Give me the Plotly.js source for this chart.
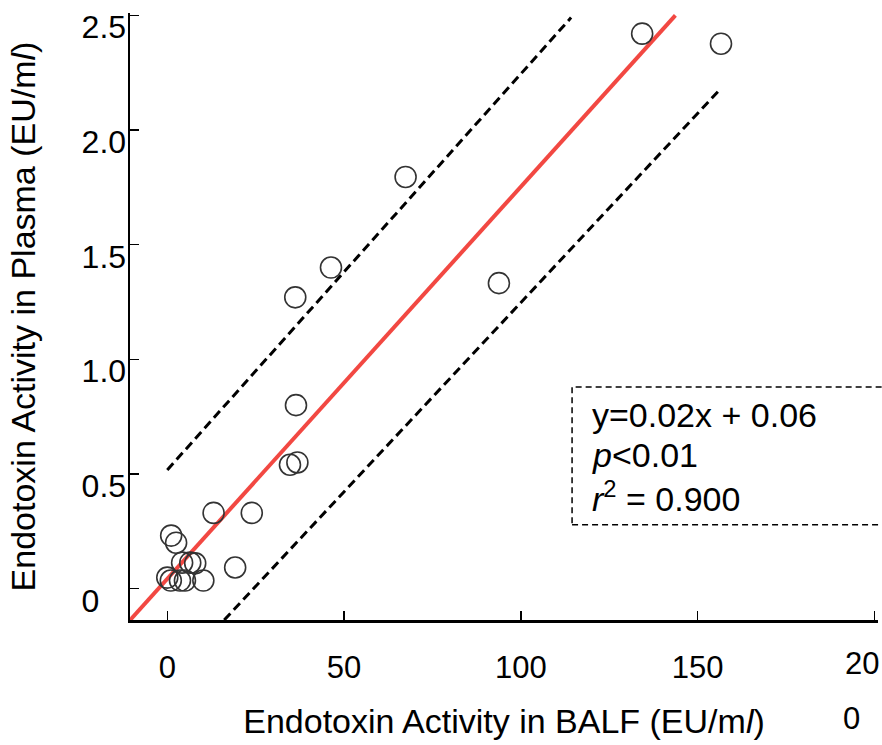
<!DOCTYPE html>
<html>
<head>
<meta charset="utf-8">
<script src="https://cdn.plot.ly/plotly-3.0.1.min.js"></script>
<style>html,body{margin:0;padding:0;background:#fff;}#chart{width:882px;height:745px;}</style>
</head>
<body>
<div id="chart"></div>
<script>
// Observed points
const balf = [134.3, 156.6, 67.4, 46.3, 36.2, 93.8, 36.4, 36.8, 34.7, 13.1, 23.9, 19.2, 1.1, 2.5, 4.2, 6.5, 7.9, 0.0, 1.0, 3.6, 5.0, 10.2];
const plasma = [2.42, 2.376, 1.795, 1.40, 1.27, 1.332, 0.80, 0.55, 0.54, 0.33, 0.33, 0.092, 0.231, 0.20, 0.113, 0.113, 0.11, 0.048, 0.035, 0.035, 0.035, 0.035];

// Regression line and band lines (endpoints)
const fitX = [-10.5, 143.7];
const fitY = [-0.137, 2.50];
const upperX = [0, 114.2];
const upperY = [0.517, 2.49];
const lowerX = [16.1, 156.1];
const lowerY = [-0.137, 2.173];

// Ticks (the 200 label is split in the original: "20" on the tick row, "0" beside the title)
const xTickVals = [0, 50, 100, 150, 200];
const xTickText = ['0', '50', '100', '150', ''];
const xTick200Parts = ['20', '0'];
const yTickVals = [0, 0.5, 1.0, 1.5, 2.0, 2.5];
const yTickText = ['0\u2008\u2007', '0.5', '1.0', '1.5', '2.0', '2.5'];

const statLines = ['y=0.02x + 0.06', '<i>p</i>&lt;0.01', '<i>r</i><sup>2</sup> = 0.900'];

const FONT = 'Liberation Sans, Arial, sans-serif';

const traces = [
  {x: upperX, y: upperY, mode: 'lines', line: {color: '#000', width: 3, dash: '9px,5px'}, hoverinfo: 'skip'},
  {x: lowerX, y: lowerY, mode: 'lines', line: {color: '#000', width: 3, dash: '9px,5px'}, hoverinfo: 'skip'},
  {x: fitX, y: fitY, mode: 'lines', line: {color: 'rgb(242,72,66)', width: 4}, hoverinfo: 'skip'},
  {x: balf, y: plasma, mode: 'markers', marker: {symbol: 'circle-open', size: 21, color: '#333', line: {width: 1.6, color: '#333'}}}
];

const layout = {
  width: 882, height: 745,
  margin: {l: 130, r: 4, t: 13, b: 125},
  paper_bgcolor: '#fff', plot_bgcolor: '#fff',
  showlegend: false,
  font: {family: FONT, color: '#000', size: 30},
  xaxis: {
    range: [-10.54, 201], showgrid: false, zeroline: false,
    showline: true, linecolor: '#000', linewidth: 2.5,
    ticks: 'inside', ticklen: 9, tickwidth: 1.5, tickcolor: '#000',
    tickmode: 'array', tickvals: xTickVals, ticktext: xTickText,
    tickfont: {family: FONT, size: 31, color: '#000'},
    ticklabelstandoff: 18,
    title: {text: 'Endotoxin Activity in BALF (EU/m<i>l</i>)', font: {family: FONT, size: 34, color: '#000'}, standoff: 26},
    automargin: false
  },
  yaxis: {
    range: [-0.137, 2.51], showgrid: false, zeroline: false,
    showline: true, linecolor: '#000', linewidth: 2.5,
    ticks: 'inside', ticklen: 9, tickwidth: 1.5, tickcolor: '#000',
    tickmode: 'array', tickvals: yTickVals, ticktext: yTickText,
    tickfont: {family: FONT, size: 32, color: '#000'},
    ticklabelshift: 12,
    ticklabelstandoff: -5,
    ticklabeloverflow: 'allow',
    title: {text: 'Endotoxin Activity in Plasma (EU/m<i>l</i>)', font: {family: FONT, size: 34, color: '#000'}, standoff: 36},
    automargin: false
  },
  shapes: [
    {type: 'rect', xref: 'paper', yref: 'paper', x0: 0.591, x1: 1.02, y0: 0.157, y1: 0.384,
     line: {color: '#000', width: 1.5, dash: '6px,4px'}, fillcolor: 'rgba(0,0,0,0)'}
  ],
  annotations: [
    {xref: 'paper', yref: 'paper', x: 0.615, y: 0.338, xanchor: 'left', yanchor: 'middle', showarrow: false, text: statLines[0], font: {family: FONT, size: 34, color: '#000'}},
    {xref: 'paper', yref: 'paper', x: 0.615, y: 0.272, xanchor: 'left', yanchor: 'middle', showarrow: false, text: statLines[1], font: {family: FONT, size: 34, color: '#000'}},
    {xref: 'paper', yref: 'paper', x: 0.615, y: 0.203, xanchor: 'left', yanchor: 'middle', showarrow: false, text: statLines[2], font: {family: FONT, size: 34, color: '#000'}},
    {xref: 'x', yref: 'paper', x: 200, xshift: -12, y: -0.072, xanchor: 'center', yanchor: 'middle', showarrow: false, text: xTick200Parts[0], font: {family: FONT, size: 31, color: '#000'}},
    {xref: 'x', yref: 'paper', x: 200, xshift: -23, y: -0.162, xanchor: 'center', yanchor: 'middle', showarrow: false, text: xTick200Parts[1], font: {family: FONT, size: 31, color: '#000'}}
  ]
};

Plotly.newPlot('chart', traces, layout, {displayModeBar: false, staticPlot: true});
</script>
</body>
</html>
